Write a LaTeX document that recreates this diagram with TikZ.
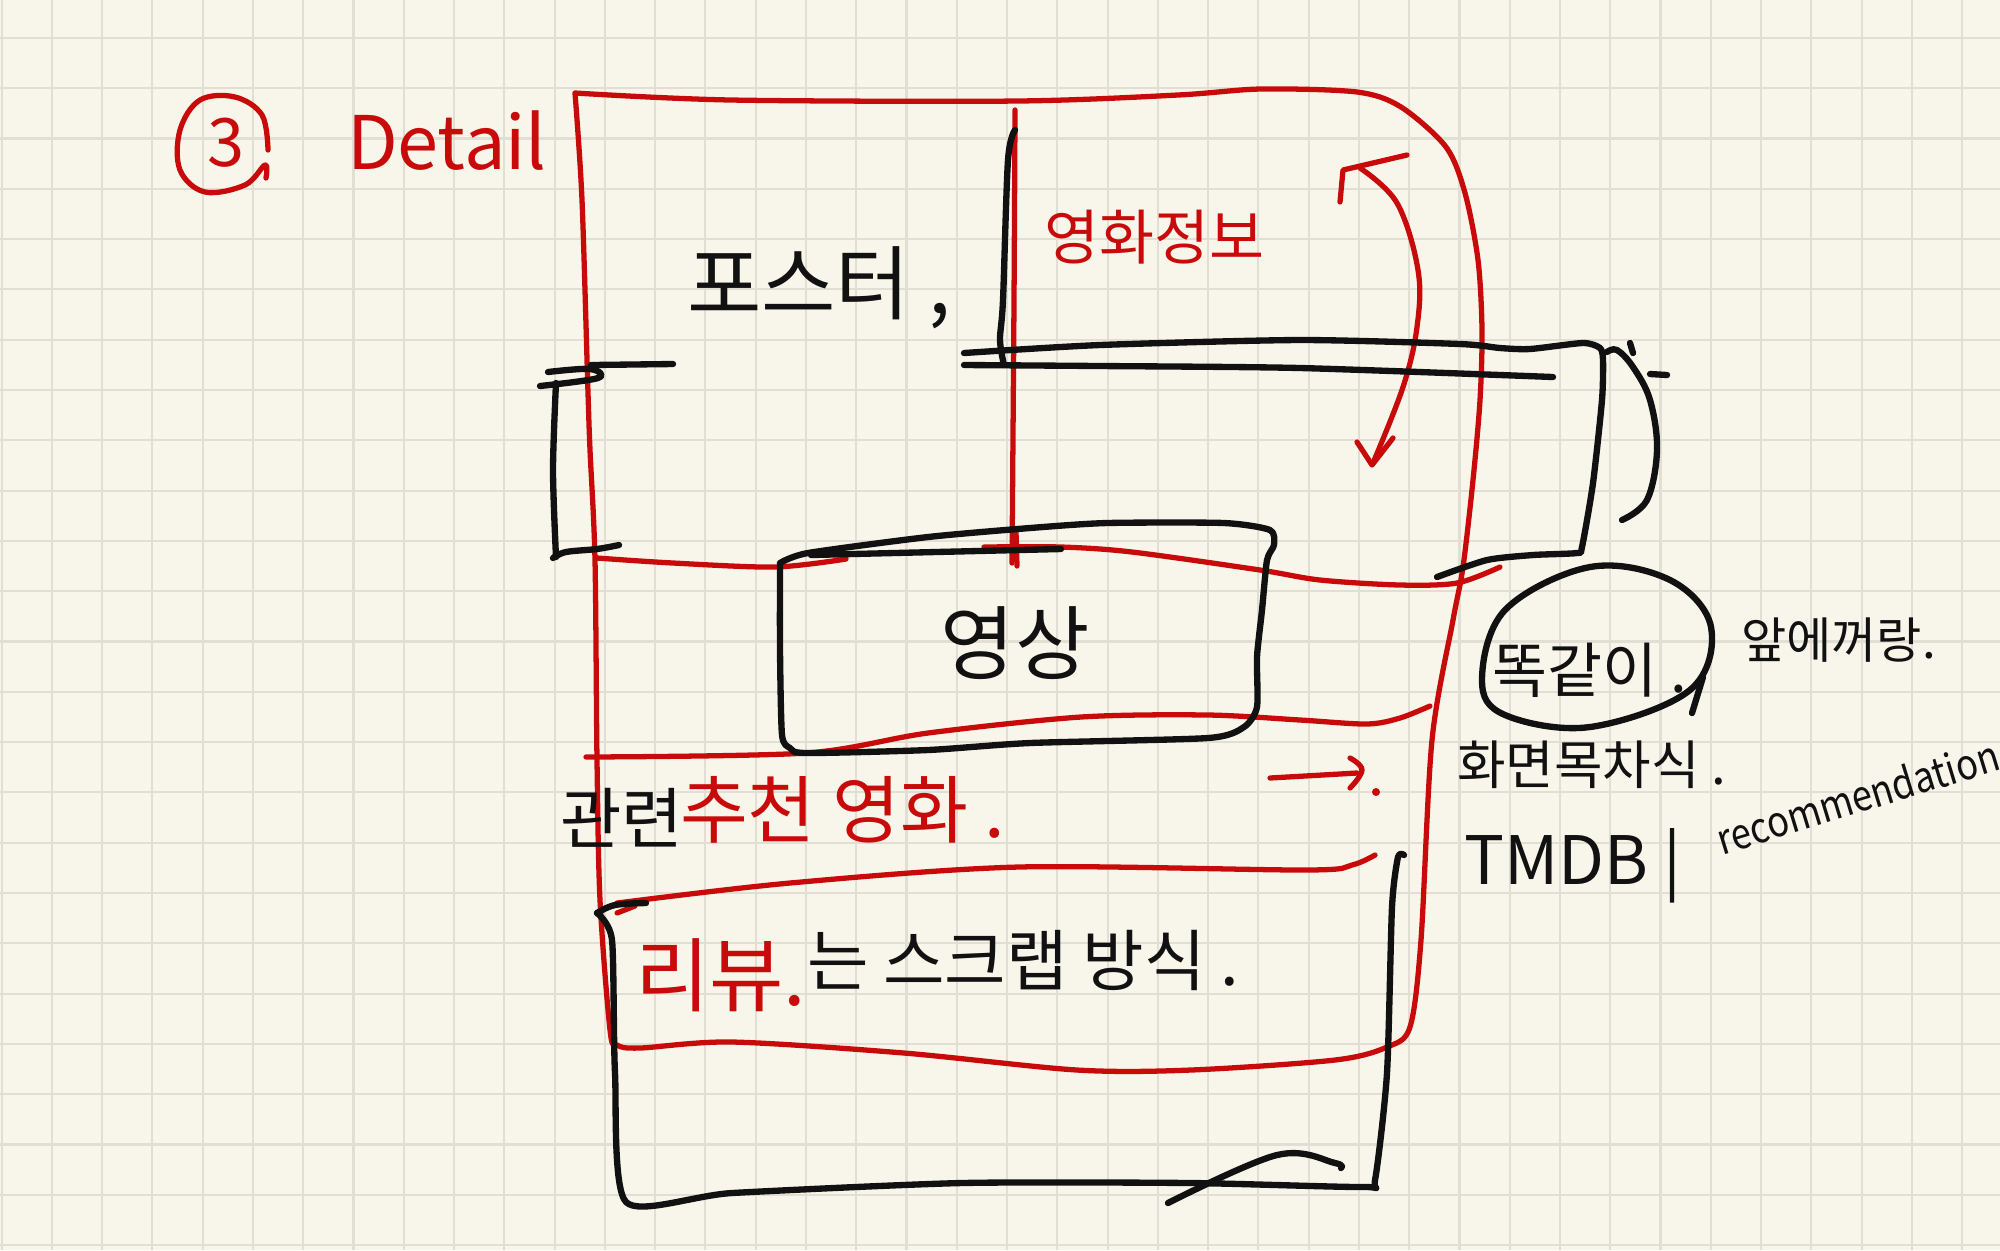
\documentclass[tikz,border=0pt]{standalone}
\usepackage{fontspec}
\setmainfont{Noto Sans CJK KR}
\definecolor{paper}{HTML}{F8F6EB}
\definecolor{gridc}{HTML}{E1DED4}
\definecolor{pen}{HTML}{C80A0A}
\definecolor{ink}{HTML}{111111}
\newcommand\myfs[1]{\fontsize{#1}{#1}\selectfont}
\begin{document}
\begin{tikzpicture}[x=0.01cm,y=-0.01cm,
  redline/.style={draw=pen,line width=1.5pt,line cap=round,line join=round},
  blackline/.style={draw=ink,line width=1.8pt,line cap=round,line join=round},
  txt/.style={inner sep=0pt,outer sep=0pt}]
\useasboundingbox (0,0) rectangle (2000,1250);
\fill[paper] (0,0) rectangle (2000,1250);
\foreach \i in {0,...,39} \draw[gridc,line width=0.6pt] ({1.6+50.27*\i},0) -- ({1.6+50.27*\i},1250);
\foreach \j in {0,...,24} \draw[gridc,line width=0.6pt] (0,{37.9+50.3*\j}) -- (2000,{37.9+50.3*\j});

% title
\draw[redline] plot[smooth,tension=0.6] coordinates {(268,150) (262,115) (235,97) (200,100) (180,130) (180,170) (205,192) (245,185) (265,165) (266,178)};
\node[txt,text=pen] (num) at (226,143) {\myfs{19pt}3};
\node[txt,text=pen,anchor=west] (title) at (347,141) {\myfs{21pt}Detail};

% red outer frame
\draw[redline] plot[smooth,tension=0.5] coordinates {(575,93) (731,100) (1018,101) (1178,95) (1261,89) (1357,92) (1401,107) (1446,147) (1465,193) (1478,260) (1482,330) (1480,400) (1473,480) (1463,567) (1453,620) (1432,740) (1421,940) (1410,1027) (1387,1047) (1335,1060) (1191,1070) (1077,1070) (904,1053) (732,1042) (640,1048) (617,1045) (610,1030) (600,900) (597,760) (595,560) (590,450) (588,393) (582,200) (575,93)};
% red dividers
\draw[redline] plot[smooth,tension=0.5] coordinates {(1015,110) (1014,300) (1012,563)};
\draw[redline] (1016,532) -- (1017,566);
\draw[redline] plot[smooth,tension=0.5] coordinates {(597,558) (673,563) (775,567) (846,559)};
\draw[redline] plot[smooth,tension=0.5] coordinates {(984,547) (1061,547) (1132,552) (1260,570) (1320,580) (1400,585) (1457,583) (1500,567)};
\draw[redline] plot[smooth,tension=0.5] coordinates {(586,757) (806,753) (928,733) (1081,717) (1208,715) (1300,720) (1367,724) (1400,718) (1430,706)};
\draw[redline] plot[smooth,tension=0.5] coordinates {(617,903) (790,883) (1019,867) (1306,870) (1352,865) (1375,855)};
\draw[redline] (617,913) -- (635,906);
% red curved arrow
\draw[redline] (1340,202) -- (1343,170) -- (1407,155);
\draw[redline] plot[smooth,tension=0.6] coordinates {(1360,168) (1397,203) (1418,270) (1417,327) (1403,387) (1373,463)};
\draw[redline] (1357,442) -- (1372,465) -- (1393,438);
% red short arrow
\draw[redline] (1270,778) -- (1357,773);
\draw[redline] plot[smooth,tension=0.7] coordinates {(1350,758) (1362,770) (1350,788)};
\fill[pen] (1376,792) circle (4);

% black strokes
\draw[blackline] plot[smooth,tension=0.5] coordinates {(1015,130) (1008,160) (1003,300) (1000,340) (1004,365)};
\draw[blackline] plot[smooth,tension=0.4] coordinates {(964,353) (1100,345) (1300,340) (1460,344) (1500,348) (1530,349) (1583,343) (1600,348) (1603,360) (1602,400) (1593,483) (1582,547) (1577,553) (1533,555) (1487,560) (1437,577)};
\draw[blackline] plot[smooth,tension=0.4] coordinates {(964,365) (1100,366) (1300,368) (1553,377)};
\draw[blackline] plot[smooth,tension=0.6] coordinates {(1607,352) (1617,350) (1633,367) (1650,400) (1657,450) (1647,500) (1622,520)};
\draw[blackline] (1630,343) -- (1633,353);
\draw[blackline] (1650,374) -- (1667,375);
% left bracket
\draw[blackline] (591,365) -- (673,364);
\draw[blackline] plot[smooth,tension=0.6] coordinates {(548,372) (590,369) (598,378) (540,386)};
\draw[blackline] plot[smooth,tension=0.5] coordinates {(556,383) (553,470) (556,557)};
\draw[blackline] plot[smooth,tension=0.6] coordinates {(553,558) (566,552) (597,549) (619,545)};
% video box
\draw[blackline] plot[smooth,tension=0.4] coordinates {(780,563) (808,553) (928,537) (1030,528) (1107,523) (1224,523) (1270,530) (1274,545) (1267,560) (1262,610) (1257,657) (1257,707) (1244,727) (1208,738) (1030,743) (928,750) (806,753) (790,748) (782,735) (780,650) (780,563)};
\draw[blackline] (811,555) -- (1061,549);
% bottom box
\draw[blackline] plot[smooth,tension=0.6] coordinates {(597,913) (615,905) (646,903)};
\draw[blackline] plot[smooth,tension=0.4] coordinates {(597,913) (612,940) (615,1073) (626,1202) (732,1193) (962,1183) (1191,1183) (1364,1187) (1375,1180) (1387,1073) (1392,907) (1398,857) (1404,855)};
\draw[blackline] plot[smooth,tension=0.6] coordinates {(1168,1203) (1277,1155) (1335,1163) (1341,1168)};
% ellipse on the right
\draw[blackline] plot[smooth cycle,tension=0.6] coordinates {(1482,680) (1505,610) (1590,567) (1670,580) (1711,627) (1690,690) (1590,727) (1505,715)};
\draw[blackline] (1692,713) -- (1703,677);

% texts
\node[txt,text=ink,anchor=west] (poster) at (687,288) {\myfs{23pt}포스터 ,};
\node[txt,text=pen,anchor=west] (info) at (1044,237) {\myfs{17pt}영화정보};
\node[txt,text=ink] (video) at (1015,643) {\myfs{23pt}영상};
\node[txt,text=ink,anchor=west] (rel) at (560,818) {\myfs{19pt}관련};
\node[txt,text=pen,anchor=west] (rec) at (680,810) {\myfs{21pt}추천 영화 .};
\node[txt,text=pen,anchor=west] (review) at (635,975) {\myfs{23pt}리뷰.};
\node[txt,text=ink,anchor=west] (scrap) at (807,960) {\myfs{19pt}는 스크랩 방식 .};
\node[txt,text=ink,anchor=west] (same) at (1492,670) {\myfs{17pt}똑같이 .};
\node[txt,text=ink,anchor=west] (prev) at (1741,640) {\myfs{14pt}앞에꺼랑.};
\node[txt,text=ink,anchor=west] (toc) at (1457,765) {\myfs{15pt}화면목차식 .};
\node[txt,text=ink,anchor=west] (tmdb) at (1464,866) {\myfs{19pt}TMDB |};
\node[txt,text=ink,anchor=base west,rotate=17,xscale=0.86] (recom) at (1722,855) {\myfs{12pt}recommendation};
\end{tikzpicture}
\end{document}
